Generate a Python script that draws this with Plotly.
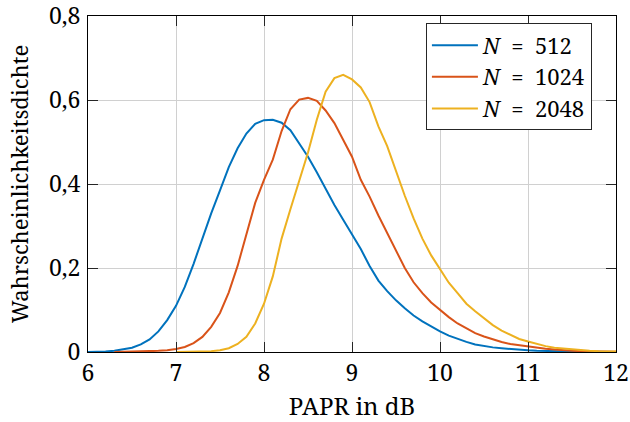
import plotly.graph_objects as go

# ---- data ----
x_512 = [6.0, 6.1, 6.2, 6.3, 6.4, 6.5, 6.6, 6.7, 6.8, 6.9, 7.0, 7.1, 7.2, 7.3, 7.4, 7.5, 7.6, 7.7, 7.8, 7.9,
         8.0, 8.1, 8.2, 8.3, 8.4, 8.5, 8.6, 8.7, 8.8, 8.9, 9.0, 9.1, 9.2, 9.3, 9.4, 9.5, 9.6, 9.7, 9.8, 9.9,
         10.0, 10.1, 10.2, 10.3, 10.4, 10.5, 10.6, 10.7, 10.8, 10.9, 11.0, 11.1, 11.2, 11.3, 11.4, 11.5,
         11.6, 11.7, 11.8, 11.9, 12.0]
y_512 = [0.0, 0.0003, 0.001, 0.003, 0.006, 0.010, 0.018, 0.030, 0.049, 0.076, 0.110, 0.155, 0.210, 0.272, 0.330,
         0.385, 0.440, 0.485, 0.520, 0.543, 0.552, 0.553, 0.546, 0.528, 0.497, 0.465, 0.428, 0.388, 0.350, 0.315,
         0.281, 0.245, 0.205, 0.170, 0.145, 0.123, 0.104, 0.087, 0.073, 0.060, 0.049, 0.039, 0.031, 0.024,
         0.018, 0.014, 0.011, 0.009, 0.007, 0.005, 0.004, 0.003, 0.0022, 0.0016, 0.0011, 0.0008, 0.0005,
         0.0003, 0.0002, 0.0001, 0.0]

x_1024 = [6.3, 6.4, 6.5, 6.6, 6.7, 6.8, 6.9, 7.0, 7.1, 7.2, 7.3, 7.4, 7.5, 7.6, 7.7, 7.8, 7.9,
          8.0, 8.1, 8.2, 8.3, 8.4, 8.5, 8.6, 8.7, 8.8, 8.9, 9.0, 9.1, 9.2, 9.3, 9.4, 9.5, 9.6, 9.7, 9.8, 9.9,
          10.0, 10.1, 10.2, 10.3, 10.4, 10.5, 10.6, 10.7, 10.8, 10.9, 11.0, 11.1, 11.2, 11.3, 11.4, 11.5,
          11.6, 11.7, 11.8, 11.9, 12.0]
y_1024 = [0.0, 0.0002, 0.0005, 0.001, 0.0017, 0.0027, 0.004, 0.007, 0.012, 0.021, 0.036, 0.060, 0.093, 0.142,
          0.205, 0.283, 0.355, 0.410, 0.458, 0.526, 0.578, 0.601, 0.605, 0.598, 0.575, 0.545, 0.505, 0.465,
          0.410, 0.370, 0.325, 0.282, 0.240, 0.200, 0.166, 0.140, 0.118, 0.100, 0.083, 0.068, 0.057, 0.045,
          0.037, 0.030, 0.024, 0.019, 0.016, 0.013, 0.010, 0.008, 0.006, 0.004, 0.003, 0.002, 0.0015,
          0.001, 0.0007, 0.0005]

x_2048 = [7.0, 7.1, 7.2, 7.3, 7.4, 7.5, 7.6, 7.7, 7.8, 7.9,
          8.0, 8.1, 8.2, 8.3, 8.4, 8.5, 8.6, 8.7, 8.8, 8.9, 9.0, 9.1, 9.2, 9.3, 9.4, 9.5, 9.6, 9.7, 9.8, 9.9,
          10.0, 10.1, 10.2, 10.3, 10.4, 10.5, 10.6, 10.7, 10.8, 10.9, 11.0, 11.1, 11.2, 11.3, 11.4, 11.5,
          11.6, 11.7, 11.8, 11.9, 12.0]
y_2048 = [0.0, 0.0003, 0.0006, 0.001, 0.002, 0.004, 0.009, 0.019, 0.036, 0.068, 0.115, 0.180, 0.270, 0.340,
          0.405, 0.475, 0.553, 0.620, 0.652, 0.660, 0.649, 0.630, 0.595, 0.537, 0.490, 0.430, 0.372, 0.318,
          0.270, 0.230, 0.196, 0.165, 0.140, 0.115, 0.097, 0.080, 0.064, 0.051, 0.040, 0.031, 0.025, 0.019,
          0.014, 0.010, 0.008, 0.006, 0.004, 0.003, 0.002, 0.0015, 0.001]

NB = "\u00a0"
series_names = ["<i>N</i>" + NB * 2 + "=" + NB * 2 + "512",
                "<i>N</i>" + NB * 2 + "=" + NB * 2 + "1024",
                "<i>N</i>" + NB * 2 + "=" + NB * 2 + "2048"]
series_colors = ["#0072BD", "#D95319", "#EDB120"]

x_tickvals = [6, 7, 8, 9, 10, 11, 12]
x_ticktext = ["6", "7", "8", "9", "10", "11", "12"]
y_tickvals = [0, 0.2, 0.4, 0.6, 0.8]
y_ticktext = ["0", "0,2", "0,4", "0,6", "0,8"]

FONT = "Noto Serif"

fig = go.Figure()
for xs, ys, name, col in zip([x_512, x_1024, x_2048], [y_512, y_1024, y_2048], series_names, series_colors):
    fig.add_trace(go.Scatter(x=xs, y=ys, mode="lines", name=name,
                             line=dict(color=col, width=2)))

axis_common = dict(showline=True, linecolor="#000000", linewidth=1, mirror="ticks",
                   ticks="inside", ticklen=10, tickcolor="#262626", tickwidth=1,
                   showgrid=True, gridcolor="#d0d0d0", gridwidth=1, zeroline=False,
                   automargin=False, ticklabeloverflow="allow",
                   tickfont=dict(family=FONT, size=23, color="#000000"))

fig.update_layout(
    width=630, height=422,
    margin=dict(l=88, r=14, t=16, b=70),
    paper_bgcolor="white", plot_bgcolor="white",
    font=dict(family=FONT, size=23, color="#000000"),
    xaxis=dict(range=[6, 12], tickvals=x_tickvals, ticktext=x_ticktext,
               title=dict(text="PAPR in dB", font=dict(family=FONT, size=24), standoff=20),
               **axis_common),
    yaxis=dict(range=[0, 0.8], tickvals=y_tickvals, ticktext=y_ticktext,
               ticklabelstandoff=2,
               title=dict(text="Wahrscheinlichkeitsdichte", font=dict(family=FONT, size=22), standoff=14),
               **axis_common),
    legend=dict(x=0.64, y=0.978, xanchor="left", yanchor="top",
                bgcolor="white", bordercolor="#262626", borderwidth=1,
                font=dict(family=FONT, size=22, color="#000000"),
                itemwidth=46, tracegroupgap=0),
    showlegend=True,
)

fig.write_html("out.html", config={"displayModeBar": False},
               post_script="document.body.style.margin='0';")
